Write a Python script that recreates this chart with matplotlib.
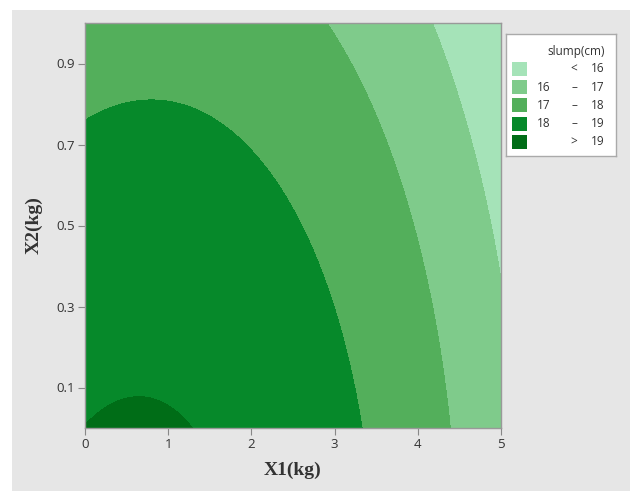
import numpy as np
import matplotlib.pyplot as plt
from matplotlib.patches import Rectangle

# fitted second-order model for slump (cm) in X1, X2
terms = ["const", "X1", "X2", "X1^2", "X2^2", "X1*X2"]
coefs = [19.006, 0.1838, -0.8137, -0.1459, -0.671, 0.0612]

x1_range = [0, 5]
x2_range = [0, 1]
levels = [10, 16, 17, 18, 19, 25]
band_labels = [("", "<", "16"), ("16", "–", "17"), ("17", "–", "18"),
               ("18", "–", "19"), ("", ">", "19")]
colors = ["#a5e3b8", "#7fcb8b", "#53af5b", "#06892a", "#006d17"]

x1 = np.linspace(x1_range[0], x1_range[1], 400)
x2 = np.linspace(x2_range[0], x2_range[1], 400)
X1, X2 = np.meshgrid(x1, x2)
c = dict(zip(terms, coefs))
Z = (c["const"] + c["X1"] * X1 + c["X2"] * X2 + c["X1^2"] * X1**2
     + c["X2^2"] * X2**2 + c["X1*X2"] * X1 * X2)

W, H = 630, 491
fig = plt.figure(figsize=(W / 100, H / 100), dpi=100)
fig.patch.set_facecolor("white")
fig.add_artist(Rectangle((12 / W, 0), 1 - 12 / W, 1 - 10 / H,
                         transform=fig.transFigure, facecolor="#e6e6e6",
                         edgecolor="none", zorder=0))

ax = fig.add_axes([85 / W, 1 - 428 / H, 416 / W, 405 / H])
ax.contourf(X1, X2, Z, levels=levels, colors=colors)
ax.set_xlim(x1_range)
ax.set_ylim(x2_range)
ax.set_xticks([0, 1, 2, 3, 4, 5])
ax.set_yticks([0.1, 0.3, 0.5, 0.7, 0.9])
ax.set_yticklabels(["0.1", "0.3", "0.5", "0.7", "0.9"])
ax.tick_params(length=5, width=0.8, color="#888888", labelcolor="#333333",
               labelsize=9.5, pad=2)
for lab in ax.get_xticklabels() + ax.get_yticklabels():
    lab.set_family("Open Sans")
for s in ax.spines.values():
    s.set_color("#999999")
    s.set_linewidth(1)
ax.set_xlabel("X1(kg)", family="Liberation Serif", fontweight="bold",
              fontsize=14, color="#333333", labelpad=8)
ax.set_ylabel("X2(kg)", family="Liberation Serif", fontweight="bold",
              fontsize=14, color="#333333", labelpad=10)

# legend box drawn in its own pixel-unit axes
lg = fig.add_axes([506 / W, 1 - 156 / H, 110 / W, 122 / H])
lg.set_xlim(0, 110)
lg.set_ylim(122, 0)
lg.set_xticks([])
lg.set_yticks([])
lg.set_facecolor("white")
for s in lg.spines.values():
    s.set_color("#aaaaaa")
    s.set_linewidth(1)
tkw = dict(family="Open Sans", fontsize=8.5, color="#333333", va="center")
lg.text(99, 18, "slump(cm)", ha="right", **tkw)
for i, (lo, dash, hi) in enumerate(band_labels):
    y = 35 + i * 18.2
    lg.add_patch(Rectangle((6, y - 7), 15, 14, facecolor=colors[i],
                           edgecolor="none"))
    lg.text(31, y, lo, ha="left", **tkw)
    lg.text(68, y, dash, ha="center", **tkw)
    lg.text(99, y, hi, ha="right", **tkw)

fig.savefig("out.png", dpi=100, facecolor=fig.get_facecolor())
